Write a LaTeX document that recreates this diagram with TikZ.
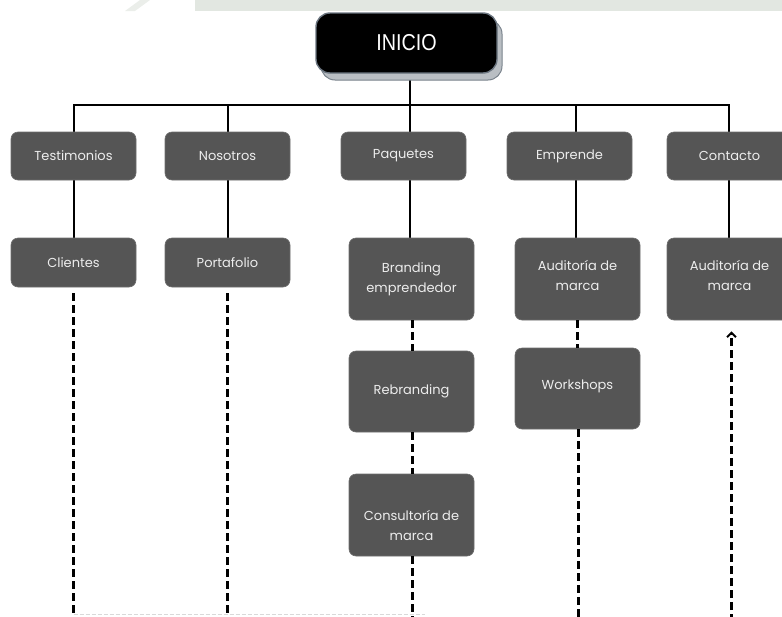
\documentclass[tikz,border=0pt]{standalone}
\usepackage{fontspec}
\newfontfamily\poppins{Poppins}
\newfontfamily\inifont[FakeStretch=0.86]{Liberation Sans}
\usetikzlibrary{arrows.meta,shadows,backgrounds}
\definecolor{boxgray}{HTML}{555555}
\definecolor{boxedge}{HTML}{6E6E6E}
\definecolor{txtgray}{HTML}{EDEDED}
\definecolor{shadowgray}{HTML}{B9BEC3}
\definecolor{shadowedge}{HTML}{7A838C}
\definecolor{iniedge}{HTML}{6B7580}
\definecolor{band}{HTML}{E2E7E1}
\tikzset{
  box/.style={fill=boxgray, draw=boxedge, line width=0.6pt, rounded corners=7pt,
    minimum width=125pt, inner sep=0pt, text=txtgray, align=center,
    font=\poppins\fontsize{13}{20}\selectfont},
  lbl/.style={inner sep=0pt, text=txtgray, align=center,
    font=\poppins\fontsize{13}{20}\selectfont},
  startbox/.style={fill=black, draw=iniedge, line width=1.4pt, rounded corners=14pt,
    minimum width=181pt, minimum height=60pt, inner sep=0pt, text=white,
    font=\inifont\fontsize{23}{26}\selectfont,
    copy shadow={shadow xshift=5pt, shadow yshift=-7pt, fill=shadowgray, draw=shadowedge, line width=1pt}},
  solidline/.style={line width=2pt, black},
  dashline/.style={line width=2.3pt, black, dash pattern=on 8pt off 4pt},
}
\begin{document}
\begin{tikzpicture}[x=1pt,y=-1pt]
\useasboundingbox (0,0) rectangle (782,616);
% faint watermark band at top
\fill[band] (195,0) rectangle (782,11);
\fill[band!70!white] (125,11) -- (140,0) -- (150,0) -- (135,11) -- cycle;

% top node
\node[startbox] (ini) at (406.5,43) {INICIO};

% bus coordinates
\coordinate (b1) at (73.5,105);
\coordinate (b2) at (227.5,105);
\coordinate (b3) at (410,105);
\coordinate (b4) at (576,105);
\coordinate (b5) at (729,105);

% first row
\node[box, minimum height=48pt] (testi) at (73.5,156) {Testimonios};
\node[box, minimum height=48pt] (noso) at (227.5,156) {Nosotros};
\node[box, minimum height=48pt] (paq) at (403.5,156) {Paquetes};
\node[box, minimum height=48pt] (empr) at (569.5,156) {Emprende};
\node[box, minimum height=48pt] (cont) at (729.5,156) {Contacto};

% second row
\node[box, minimum height=49pt] (cli) at (73.5,262.5) {Clientes};
\node[box, minimum height=49pt] (port) at (227.5,262.5) {Portafolio};
\node[box, minimum height=82pt] (brand) at (411.5,279) {Branding\\emprendedor};
\node[box, minimum height=82pt] (aud1) at (577.5,279) {};
\node[lbl] at ([yshift=4pt]aud1.center) {Auditoría de\\marca};
\node[box, minimum height=82pt] (aud2) at (729.5,279) {};
\node[lbl] at ([yshift=4pt]aud2.center) {Auditoría de\\marca};
\node[box, minimum height=81pt] (rebr) at (411.5,391.5) {Rebranding};
\node[box, minimum height=81pt] (work) at (577.5,388.5) {};
\node[lbl] at ([yshift=2pt]work.center) {Workshops};
\node[box, minimum height=82pt] (cons) at (411.5,515) {};
\node[lbl] at ([yshift=-10pt]cons.center) {Consultoría de\\marca};

% bottom end points
\coordinate (e1) at (73.5,622);
\coordinate (e2) at (227.5,622);
\coordinate (e3) at (412.5,622);
\coordinate (e4) at (578.5,622);
\coordinate (e5) at (731.5,622);
\coordinate (m4) at (577.5,0);

\begin{scope}[on background layer]
  \draw[solidline] (ini.south -| b3) -- (b3);
  \draw[solidline, line cap=rect] (b1) -- (b5);
  \draw[solidline] (b1) -- (testi.north -| b1);
  \draw[solidline] (b2) -- (noso.north -| b2);
  \draw[solidline] (b3) -- (paq.north -| b3);
  \draw[solidline] (b4) -- (empr.north -| b4);
  \draw[solidline] (b5) -- (cont.north -| b5);
  % second-level solid connectors
  \draw[solidline] (testi.south) -- (cli.north);
  \draw[solidline] (noso.south) -- (port.north);
  \draw[solidline] (paq.south -| b3) -- (brand.north -| b3);
  \draw[solidline] (empr.south -| b4) -- (aud1.north -| b4);
  \draw[solidline] (cont.south -| b5) -- (aud2.north -| b5);
\end{scope}

% dashed connectors
\draw[dashline, shorten <=6pt] (cli.south) -- (e1);
\draw[dashline, shorten <=6pt] (port.south) -- (e2);
\draw[dashline] (brand.south -| e3) -- (rebr.north -| e3);
\draw[dashline] (rebr.south -| e3) -- (cons.north -| e3);
\draw[dashline] (cons.south -| e3) -- (e3);
\draw[dashline] (aud1.south -| m4) -- (work.north -| m4);
\draw[dashline] (work.south -| e4) -- (e4);
\draw[dashline, shorten >=11pt, -{Straight Barb[length=4.5pt,width=9pt,line width=2pt]}] (e5) -- (aud2.south -| e5);

% faint bottom dashed line
\draw[black!15, line width=1pt, dash pattern=on 4pt off 2pt] (e1 |- 0,614) -- (425,614);
\end{tikzpicture}
\end{document}
